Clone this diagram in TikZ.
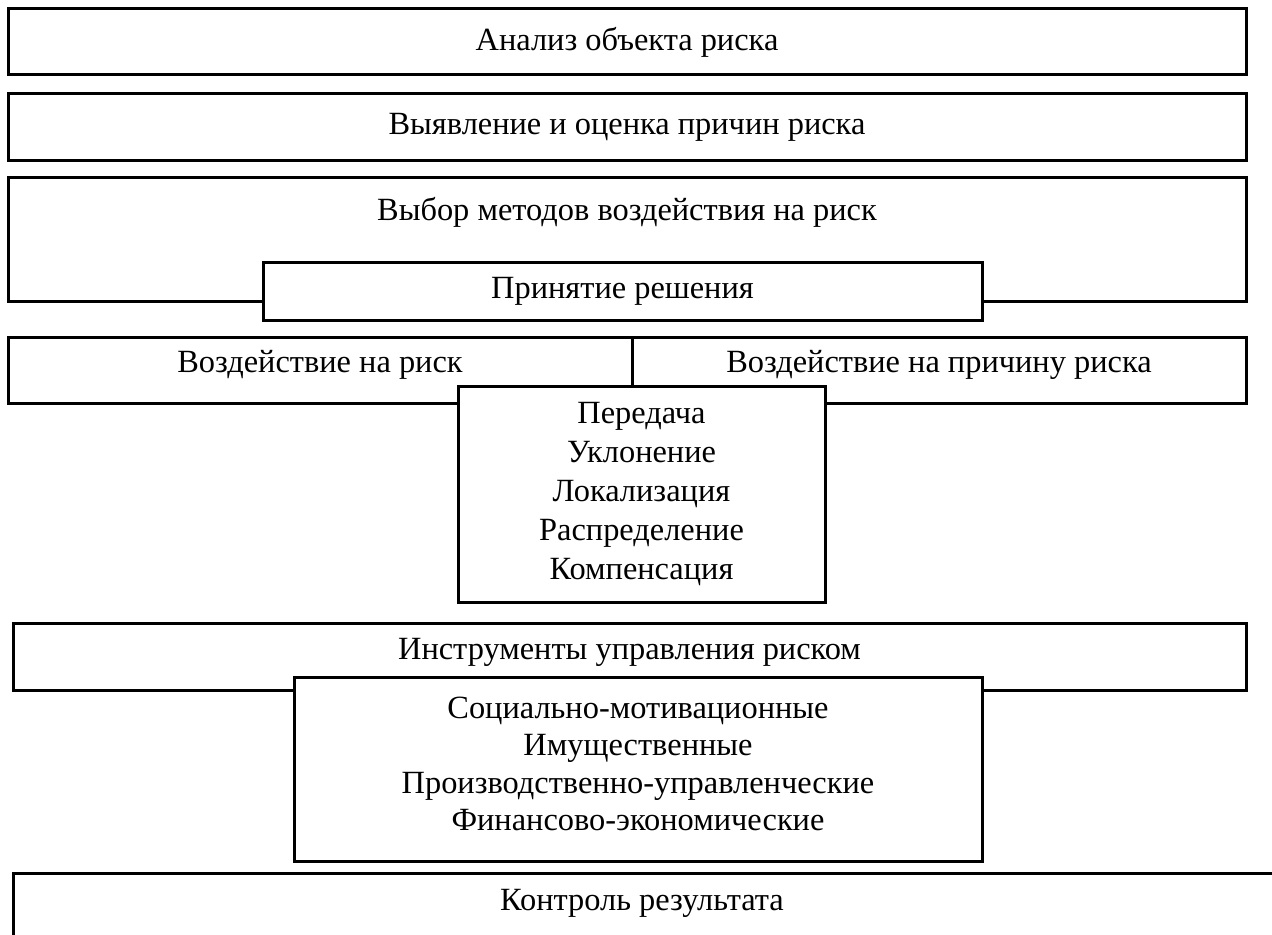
\documentclass[tikz,border=0pt]{standalone}
\usepackage{fontspec}
\setmainfont{Liberation Serif}
\usepackage{tikz}
\usetikzlibrary{positioning}
\tikzstyle{blk}=[draw, line width=1.5pt, fill=white, inner sep=0pt,
                font=\fontsize{16.2}{19.5}\selectfont]
\tikzstyle{lst}=[blk, align=center]
\tikzstyle{lbl}=[inner sep=0pt, font=\fontsize{16.2}{19.5}\selectfont]

\begin{document}
\begin{tikzpicture}[x=0.5pt,y=-0.5pt]
\useasboundingbox (0,0) rectangle (1272,935);

\node[blk, minimum width=619pt, minimum height=33pt] at (627,42) (analiz) {Анализ объекта риска};
\node[blk, minimum width=619pt, minimum height=33.5pt] at (627,127.5) (prichiny) {Выявление и оценка причин риска};

\node[blk, minimum width=619pt, minimum height=62pt] at (627,240) (vybor) {};
\node[lbl] at (627,212) (vybortxt) {Выбор методов воздействия на риск};
\node[blk, minimum width=359.5pt, minimum height=28.5pt] at (622.5,291.5) (reshenie) {Принятие решения};

\node[blk, minimum width=312pt, minimum height=33pt] at (320,370) (risk) {};
\node[blk, minimum width=307pt, minimum height=33pt] at (939,370) (prichina) {};
\node[lbl] at (320,365) (risktxt) {Воздействие на риск};
\node[lbl] at (939,365) (prichinatxt) {Воздействие на причину риска};
\node[lst, minimum width=183.5pt, minimum height=108pt] at (641.5,494) (metody)
  {Передача\\Уклонение\\Локализация\\Распределение\\Компенсация};

\node[blk, minimum width=616.5pt, minimum height=33.5pt] at (629.5,656.5) (instrumenty) {};
\node[lbl] at (629.5,652) (instrumentytxt) {Инструменты управления риском};
\node[lst, minimum width=344pt, minimum height=92pt,
      font=\fontsize{16.2}{18.75}\selectfont] at (638,769) (vidy) {};
\node[lbl, align=center, font=\fontsize{16.2}{18.75}\selectfont] at (638,764) (vidytxt)
  {Социально-мотивационные\\Имущественные\\Производственно-управленческие\\Финансово-экономические};

\node[blk, minimum width=638.5pt, minimum height=43.5pt] at (651.5,916.5) (kontrol) {};
\node[lbl] at (642,903) (kontroltxt) {Контроль результата};
\end{tikzpicture}
\end{document}
